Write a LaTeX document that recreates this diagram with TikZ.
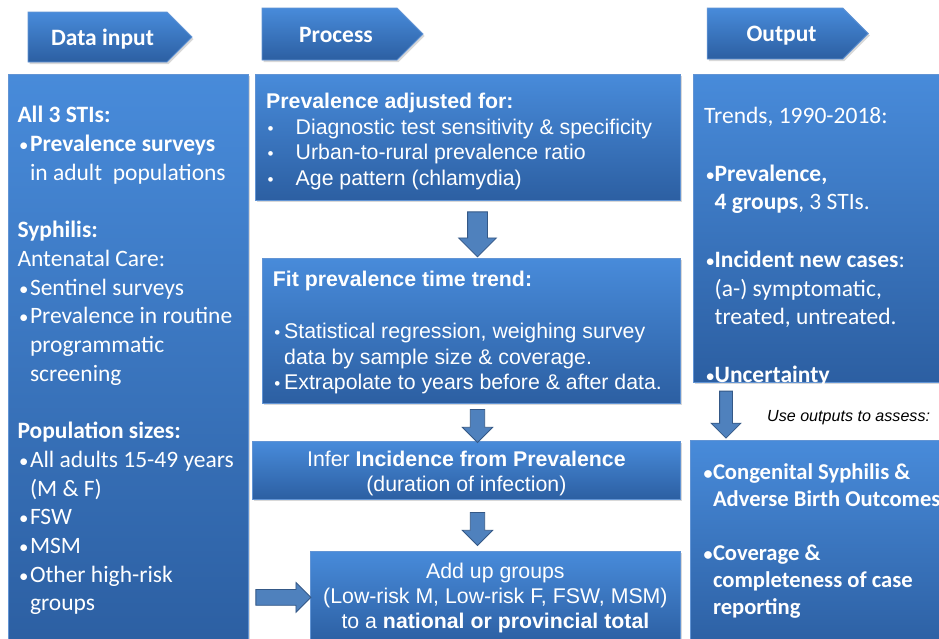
\documentclass[tikz,border=0pt]{standalone}
\usepackage{fontspec}
\setmainfont{Carlito}
\newfontfamily\arialfont{Liberation Sans}
\usetikzlibrary{shapes.arrows,shapes.symbols,shadows}
\definecolor{boxtop}{RGB}{72,139,218}
\definecolor{boxbot}{RGB}{44,95,162}
\definecolor{boxline}{RGB}{98,148,212}
\definecolor{arrowfill}{RGB}{79,129,189}
\definecolor{arrowline}{RGB}{52,88,134}
\newcommand{\bul}[1][12.5pt]{\makebox[#1][l]{\hspace{1.5pt}\scalebox{0.8}{\textbullet}}}
\newcommand{\ind}[1][12.5pt]{\hspace*{#1}}

\begin{document}
\begin{tikzpicture}[x=1pt, y=-1pt,
    box/.style={draw=boxline, line width=0.8pt, top color=boxtop, bottom color=boxbot,
        drop shadow={shadow xshift=1.5pt, shadow yshift=-2pt, opacity=0.3},
        text=white, anchor=north west, inner sep=0pt},
    txt/.style={text=white, anchor=north west, inner sep=0pt, align=left},
    calib/.style={font=\fontsize{23.5}{28.7}\selectfont},
    arl/.style={font=\arialfont\fontsize{21.3}{25.5}\selectfont},
    head/.style={signal, signal to=east, signal pointer angle=90, draw=boxline, line width=0.8pt,
        top color=boxtop, bottom color=boxbot, text=white,
        drop shadow={shadow xshift=1.5pt, shadow yshift=-2pt, opacity=0.3},
        minimum width=164pt, minimum height=50pt, inner sep=0pt, text height=16.5pt, text depth=0pt,
        font=\bfseries\fontsize{23.5}{28}\selectfont},
    fatarrow/.style={single arrow, single arrow head indent=0pt, fill=arrowfill, draw=arrowline,
        line width=0.8pt, inner xsep=0pt, sloped, allow upside down}]
    \clip (0,0) rectangle (939,638);
    \fill[white] (0,0) rectangle (939,638);
    % column headers
    \node[head] (hin) at (97.5,37) {\hspace*{10pt}Data input};
    \node[head, minimum width=161pt, minimum height=52pt] (hproc) at (329.5,34) {\hspace*{13pt}Process};
    \node[head, minimum width=161pt, minimum height=51pt] (hout) at (775,33.5) {\hspace*{13pt}Output};
    % boxes
    \node[box, minimum width=240pt, minimum height=574pt] (input) at (8,74) {};
    \node[box, minimum width=425pt, minimum height=126pt] (adj) at (255,74) {};
    \node[box, minimum width=418pt, minimum height=145pt] (fit) at (262,258) {};
    \node[box, arl, minimum width=428pt, minimum height=58pt, align=center,
        font=\arialfont\fontsize{21.3}{25}\selectfont] (infer) at (252,441) {%
        \rule{0pt}{21.5pt}Infer \textbf{Incidence from Prevalence}\\
        (duration of infection)};
    \node[box, arl, minimum width=370pt, minimum height=92pt, align=center,
        font=\arialfont\fontsize{21.3}{25}\selectfont] (add) at (310,551) {%
        \rule{0pt}{17.5pt}Add up groups\\
        (Low-risk M, Low-risk F, FSW, MSM)\\
        to a \textbf{national or provincial total}};
    \node[box, minimum width=260pt, minimum height=308pt] (out) at (693,74) {};
    \node[box, minimum width=260pt, minimum height=210pt] (assess) at (690,440) {};
    % box texts
    \node[txt, calib] (inputtxt) at (17.3,102.6) {%
        \strut\textbf{All 3 STIs:}\\
        \bul\textbf{Prevalence surveys}\\
        \ind in adult\ \ populations\\[\baselineskip]
        \textbf{Syphilis:}\\
        Antenatal Care:\\
        \bul Sentinel surveys\\
        \bul Prevalence in routine\\
        \ind programmatic\\
        \ind screening\\[\baselineskip]
        \textbf{Population sizes:}\\
        \bul All adults 15-49 years\\
        \ind(M \& F)\\
        \bul FSW\\
        \bul MSM\\
        \bul Other high-risk\\
        \ind groups};
    \node[txt, arl] (adjtxt) at (266,90.5) {%
        \strut\textbf{Prevalence adjusted for:}\\
        \bul[29.5pt]Diagnostic test sensitivity \& specificity\\
        \bul[29.5pt]Urban-to-rural prevalence ratio\\
        \bul[29.5pt]Age pattern (chlamydia)};
    \node[txt, arl, font=\arialfont\fontsize{21.3}{25.8}\selectfont] (fittxt) at (272.7,268.5) {%
        \strut\textbf{Fit prevalence time trend:}\\[\baselineskip]
        \bul[11.3pt]Statistical regression, weighing survey\\
        \ind[11.3pt]data by sample size \& coverage.\\
        \bul[11.3pt]Extrapolate to years before \& after data.};
    \node[txt, calib] (outtxt) at (704,103.6) {%
        \strut Trends, 1990-2018:\\[\baselineskip]
        \bul[10.5pt]\textbf{Prevalence,}\\
        \ind[10.5pt]\textbf{4 groups}, 3 STIs.\\[\baselineskip]
        \bul[10.5pt]\textbf{Incident new cases}:\\
        \ind[10.5pt](a-) symptomatic,\\
        \ind[10.5pt]treated, untreated.\\[\baselineskip]
        \bul[10.5pt]\textbf{Uncertainty}};
    \node[txt, font=\bfseries\fontsize{22.6}{27}\selectfont] (assesstxt) at (702,460.4) {%
        \strut\bul[10.8pt]Congenital Syphilis \&\\
        \ind[10.8pt]Adverse Birth Outcomes\\[\baselineskip]
        \bul[10.8pt]Coverage \&\\
        \ind[10.8pt]completeness of case\\
        \ind[10.8pt]reporting};
    \node[anchor=base west, inner sep=0pt, font=\arialfont\itshape\fontsize{16.1}{19}\selectfont] (use) at (767,421.7) {Use outputs to assess:};
    % block arrows
    \coordinate (spine) at (477.5,0);
    \coordinate (outspine) at (726,0);
    \path (adj.south -| spine) -- (fit.north -| spine)
        node[fatarrow, midway, minimum height=45pt, single arrow head extend=9pt, inner ysep=9.5pt] (a1) {};
    \path (fit.south -| spine) -- (infer.north -| spine)
        node[fatarrow, midway, minimum height=33pt, single arrow head extend=8pt, inner ysep=6.8pt] (a2) {};
    \path (infer.south -| spine) -- (add.north -| spine)
        node[fatarrow, midway, minimum height=33pt, single arrow head extend=8pt, inner ysep=6.8pt] (a3) {};
    \path (input.east |- add.west) -- (add.west)
        node[fatarrow, midway, minimum height=55pt, single arrow head extend=7pt, inner ysep=7.5pt] (a4) {};
    \path (out.south -| outspine) -- (assess.north -| outspine)
        node[fatarrow, midway, minimum height=47pt, single arrow head extend=8.5pt, inner ysep=6pt] (a5) {};
\end{tikzpicture}
\end{document}
